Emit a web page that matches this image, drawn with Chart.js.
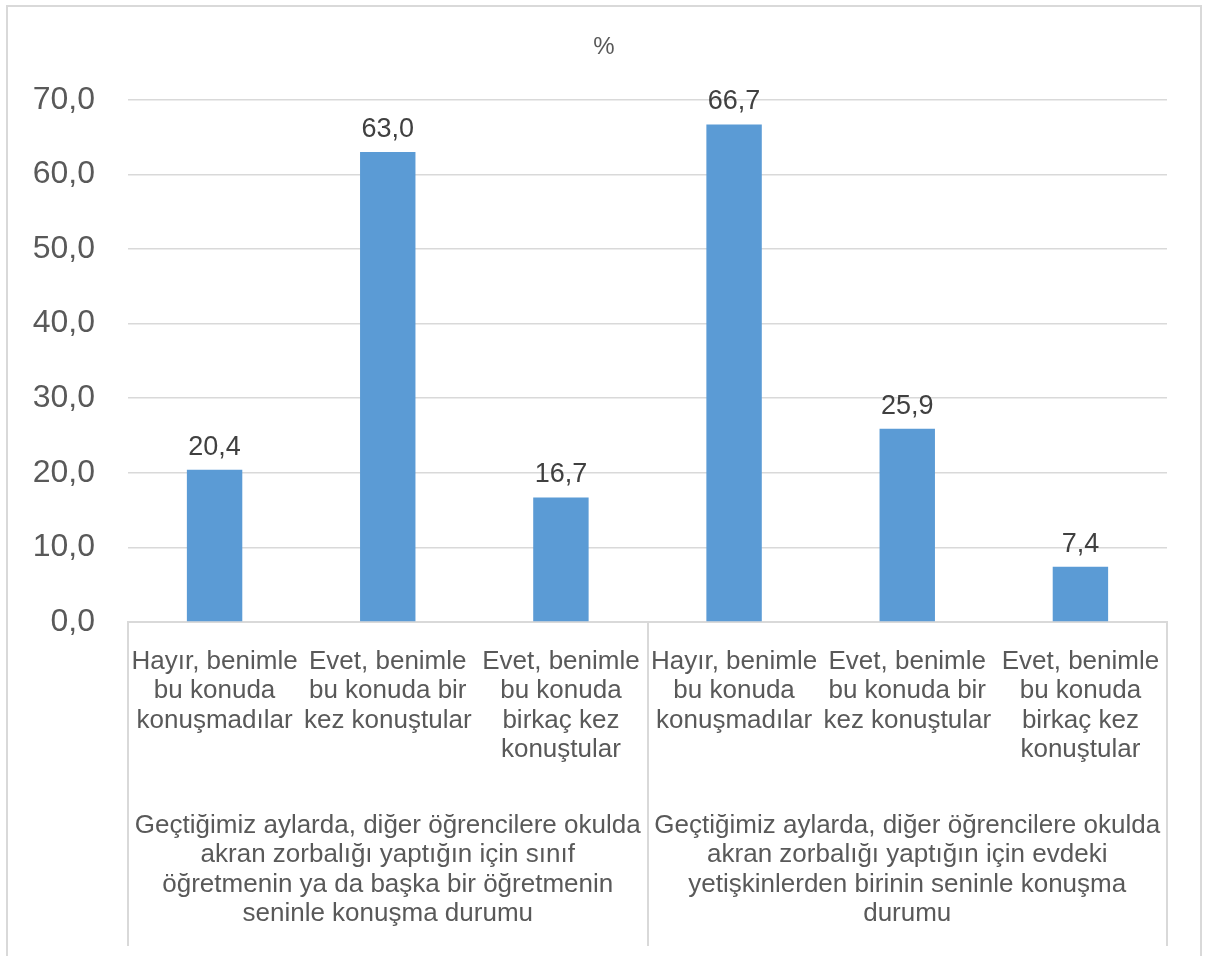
<!DOCTYPE html>
<html>
<head>
<meta charset="utf-8">
<script src="https://cdn.jsdelivr.net/npm/chart.js@4"></script>
<style>
  html, body { margin: 0; padding: 0; background: #fff; overflow: hidden; }
  #wrap { position: relative; width: 1208px; height: 956px; }
  #frame { position: absolute; left: 6px; top: 5px; width: 1196px; height: 960px; border: 2px solid #d9d9d9; box-sizing: border-box; }
  canvas { position: absolute; left: 0; top: 0; }
</style>
</head>
<body>
<div id="wrap">
  <div id="frame"></div>
  <canvas id="chart" width="1208" height="956"></canvas>
</div>
<script>
// ==============================
// DATA
// ==============================
const categories = [
    ["Hayır, benimle", "bu konuda", "konuşmadılar"],
    ["Evet, benimle", "bu konuda bir", "kez konuştular"],
    ["Evet, benimle", "bu konuda", "birkaç kez", "konuştular"],
    ["Hayır, benimle", "bu konuda", "konuşmadılar"],
    ["Evet, benimle", "bu konuda bir", "kez konuştular"],
    ["Evet, benimle", "bu konuda", "birkaç kez", "konuştular"]
];

const groupLabels = [
    ["Geçtiğimiz aylarda, diğer öğrencilere okulda", "akran zorbalığı yaptığın için sınıf", "öğretmenin ya da başka bir öğretmenin", "seninle konuşma durumu"],
    ["Geçtiğimiz aylarda, diğer öğrencilere okulda", "akran zorbalığı yaptığın için evdeki", "yetişkinlerden birinin seninle konuşma", "durumu"]
];

const groupSizes = [3, 3];

const values = [20.4, 63.0, 16.7, 66.7, 25.9, 7.4];

const yTicks = [0, 10, 20, 30, 40, 50, 60, 70];

const FONT = "'Liberation Sans', Arial, sans-serif";
const fmt = v => Number(v).toFixed(1).replace(".", ",");


// ==============================
// PLUGINS
// ==============================
const valueLabels = {
    id: "valueLabels",
    afterDatasetsDraw(chart) {
        const ctx = chart.ctx;
        const meta = chart.getDatasetMeta(0);
        ctx.save();
        ctx.font = "27px " + FONT;
        ctx.fillStyle = "#404040";
        ctx.textAlign = "center";
        ctx.textBaseline = "alphabetic";
        meta.data.forEach((bar, i) => {
            ctx.fillText(fmt(values[i]), bar.x, bar.y - 15);
        });
        ctx.restore();
    }
};

// vertical separators between category groups
const groupLines = {
    id: "groupLines",
    afterDraw(chart) {
        const x = chart.scales.x;
        const ctx = chart.ctx;
        ctx.save();
        ctx.strokeStyle = "#d9d9d9";
        ctx.lineWidth = 2;
        let idx = 0;
        const edges = [0];
        groupSizes.forEach(n => { idx += n; edges.push(idx); });
        edges.forEach(e => {
            const px = Math.round(x.getPixelForValue(e - 0.5));
            ctx.beginPath();
            ctx.moveTo(px, x.top);
            ctx.lineTo(px, chart.height - 10);
            ctx.stroke();
        });
        ctx.restore();
    }
};


// ==============================
// CHART
// ==============================
new Chart(document.getElementById("chart"), {
    type: "bar",
    data: {
        labels: categories,
        datasets: [{
            data: values,
            backgroundColor: "#5b9bd5",
            barPercentage: 0.32,
            categoryPercentage: 1
        }]
    },
    options: {
        responsive: false,
        animation: false,
        layout: { padding: 0 },
        plugins: {
            legend: { display: false },
            tooltip: { enabled: false },
            title: {
                display: true,
                text: "%",
                color: "#595959",
                font: { family: FONT, size: 24, weight: "normal", lineHeight: 1.2 },
                padding: { top: 33, bottom: 38 }
            }
        },
        scales: {
            y: {
                min: 0,
                max: 70,
                afterBuildTicks(scale) {
                    scale.ticks = yTicks.map(v => ({ value: v }));
                },
                afterFit(scale) { scale.width = 128; },
                border: { display: false },
                grid: { color: "#d9d9d9", lineWidth: 1.5, drawTicks: false },
                ticks: {
                    padding: 33,
                    color: "#595959",
                    font: { family: FONT, size: 32 },
                    callback: v => fmt(v)
                }
            },
            // empty spacer on the right so the title stays centred on the page
            yRight: {
                position: "right",
                afterFit(scale) { scale.width = 41; },
                border: { display: false },
                grid: { display: false, drawTicks: false },
                ticks: { display: false }
            },
            x: {
                position: "bottom",
                afterFit(scale) { scale.height = 170; },
                border: { display: true, color: "#d9d9d9", width: 2 },
                grid: { display: false, drawTicks: false },
                ticks: {
                    padding: 25,
                    autoSkip: false,
                    maxRotation: 0,
                    minRotation: 0,
                    color: "#595959",
                    font: { family: FONT, size: 26, lineHeight: 1.13 }
                }
            },
            x2: {
                type: "category",
                position: "bottom",
                labels: groupLabels,
                offset: true,
                afterFit(scale) { scale.height = 164; },
                border: { display: false },
                grid: { display: false, drawTicks: false },
                ticks: {
                    padding: 19,
                    autoSkip: false,
                    maxRotation: 0,
                    minRotation: 0,
                    color: "#595959",
                    font: { family: FONT, size: 26, lineHeight: 1.13 }
                }
            }
        }
    },
    plugins: [valueLabels, groupLines]
});
</script>
</body>
</html>
